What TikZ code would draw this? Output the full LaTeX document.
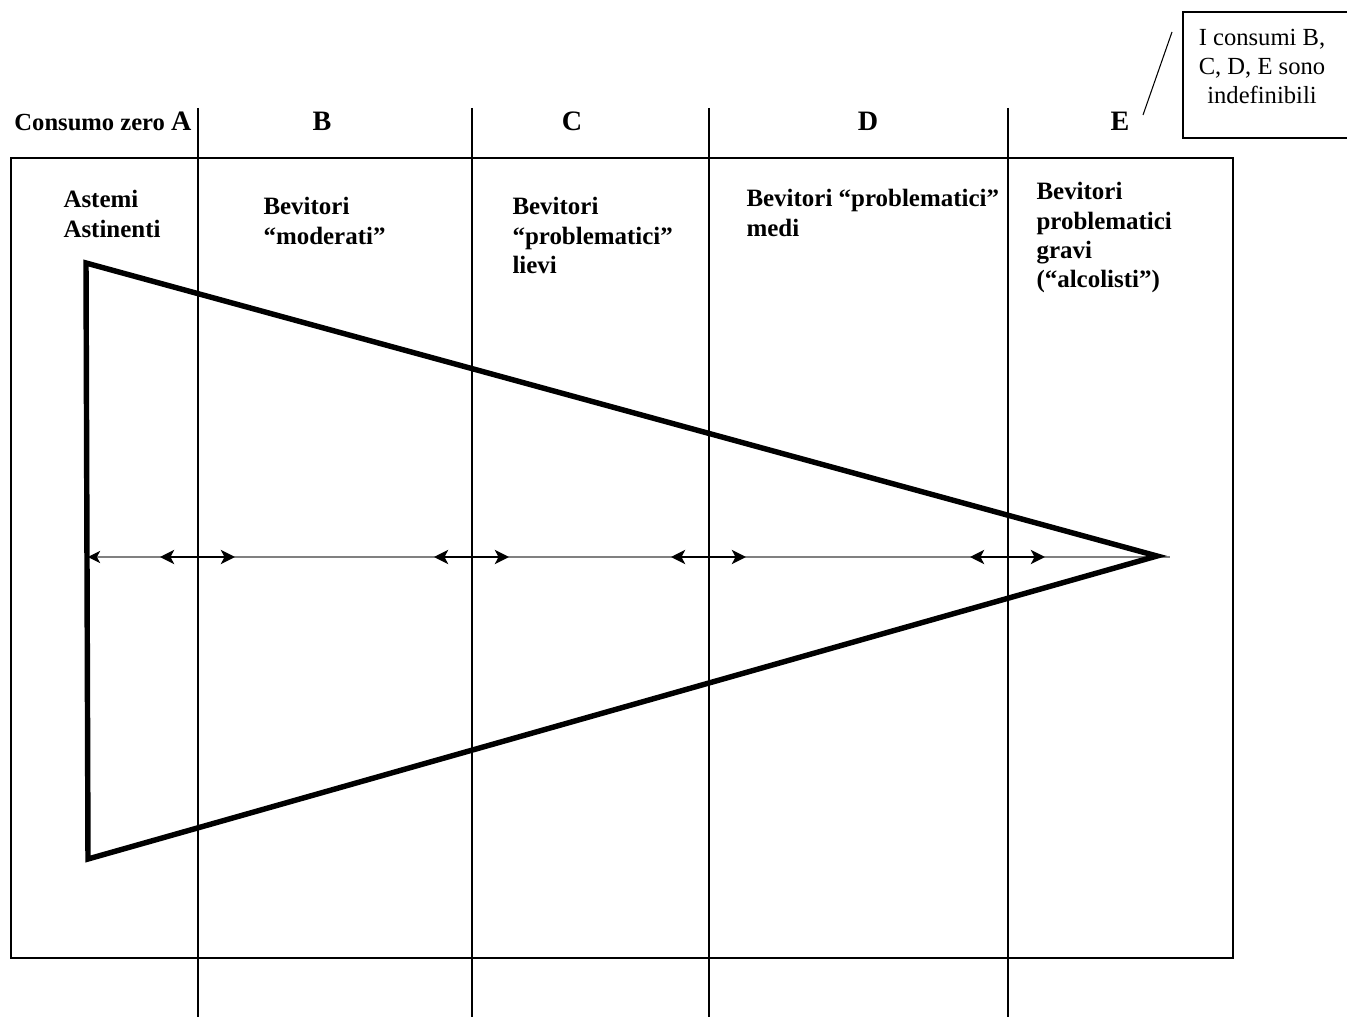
\documentclass[tikz,border=0pt]{standalone}
\usepackage{fontspec}
\setmainfont{Liberation Serif}
\usetikzlibrary{arrows.meta}

\begin{document}
\begin{tikzpicture}[x=0.02cm, y=-0.02cm, line width=0.6pt,
    every node/.style={inner sep=0pt},
    group/.style={anchor=north west, align=left, font=\bfseries\fontsize{14.2}{16.6}\selectfont},
    head/.style={anchor=base, font=\bfseries\fontsize{16}{18}\selectfont},
    link/.style={{Stealth[length=8pt,width=8pt,inset=2pt]}-{Stealth[length=8pt,width=8pt,inset=2pt]}, line width=1.7pt}]
  \useasboundingbox (0,0) rectangle (1347,1017);

  % frame and column borders
  \draw (11,158) rectangle (1233,958);
  \foreach \x in {198,472,709,1008}
    \draw (\x,108) -- (\x,1017);

  % column heads
  \node[head, anchor=base east] (headA) at (192,131) {{\fontsize{14}{16}\selectfont Consumo zero }A};
  \node[head] (headB) at (322,131) {B};
  \node[head] (headC) at (572,131) {C};
  \node[head] (headD) at (868,131) {D};
  \node[head] (headE) at (1120,131) {E};

  % note, cut at the right edge
  \node[anchor=north, align=center, font=\fontsize{14}{16.5}\selectfont] (note) at (1262,29)
    {I consumi B,\\C, D, E sono\\indefinibili};
  \draw (1355,12) -- (1183,12) -- (1183,138) -- (1355,138);
  \coordinate (tickLow) at (1143,115);
  \coordinate (tickHigh) at (1172,32);
  \draw (tickLow) -- (tickHigh);

  % groups
  \node[group] (astemi) at (63,190) {Astemi\\Astinenti};
  \node[group] (moderati) at (263,197) {Bevitori\\“moderati”};
  \node[group] (lievi) at (512,197) {Bevitori\\“problematici”\\lievi};
  \node[group] (medi) at (746,189) {Bevitori “problematici”\\medi};
  \node[group] (gravi) at (1036,182) {Bevitori\\problematici\\gravi\\(“alcolisti”)};

  % triangle and axis
  \draw[gray, {Stealth[black,length=7pt,width=7pt,inset=2pt]}-] (88,557) -- (1170,557);
  \draw[line width=3.1pt, line join=miter] (86,263) -- (1157,556) -- (88,859) -- cycle;
  \foreach \x in {198,472,709,1008}
    \draw[link] (\x-38,557) -- (\x+37,557);
\end{tikzpicture}
\end{document}
